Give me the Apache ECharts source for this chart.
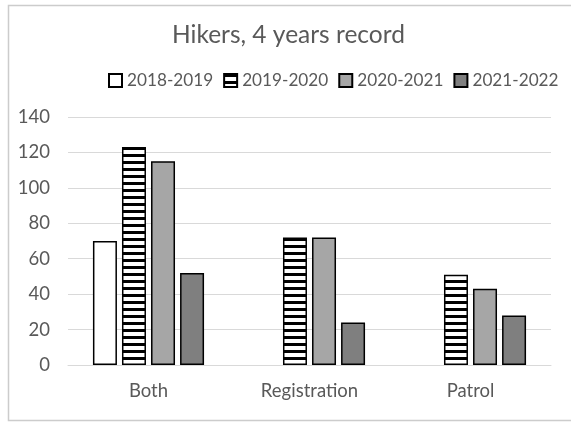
<!DOCTYPE html>
<html>
<head>
<meta charset="utf-8">
<script src="https://cdn.jsdelivr.net/npm/echarts@6/dist/echarts.min.js"></script>
<style>
  html, body { margin: 0; padding: 0; background: #fff; }
  #chart { width: 571px; height: 423px; }
</style>
</head>
<body>
<div id="chart"></div>
<script>
  // data (no bar drawn for 2018-2019 outside "Both")
  var categories = ['Both', 'Registration', 'Patrol'];
  var seasons = ['2018-2019', '2019-2020', '2020-2021', '2021-2022'];
  var s2018 = [70, null, null];
  var s2019 = [123, 72, 51];
  var s2020 = [115, 72, 43];
  var s2021 = [52, 24, 28];
  var yTicks = [0, 20, 40, 60, 80, 100, 120, 140];

  // horizontal stripes for 2019-2020
  var stripe = document.createElement('canvas');
  stripe.width = 8;
  stripe.height = 7;
  var ctx = stripe.getContext('2d');
  ctx.fillStyle = '#fff';
  ctx.fillRect(0, 0, 8, 7);
  ctx.fillStyle = '#000';
  ctx.fillRect(0, 0, 8, 3);

  var fills = ['#ffffff', { image: stripe, repeat: 'repeat' }, '#a6a6a6', '#7f7f7f'];
  var values = [s2018, s2019, s2020, s2021];
  var font = 'Lato';

  var chart = echarts.init(document.getElementById('chart'), null, { renderer: 'canvas' });

  chart.setOption({
    animation: false,
    backgroundColor: '#fff',
    textStyle: { fontFamily: font },
    graphic: [{
      type: 'rect',
      shape: { x: 8.5, y: 5.5, width: 600, height: 415 },
      style: { fill: 'none', stroke: '#cccccc', lineWidth: 1.5 },
      silent: true
    }],
    title: {
      text: 'Hikers, 4 years record',
      left: 172,
      top: 23,
      padding: 0,
      textStyle: { color: '#595959', fontSize: 24.5, fontWeight: 'normal', fontFamily: font }
    },
    legend: {
      top: 72,
      left: 108,
      width: 470,
      padding: 0,
      icon: 'rect',
      itemWidth: 13,
      itemHeight: 13,
      itemGap: 10,
      textStyle: { color: '#595959', fontSize: 17.2, fontFamily: font },
      data: seasons
    },
    grid: { left: 68, right: 20, top: 117, bottom: 58 },
    xAxis: {
      type: 'category',
      data: categories,
      axisTick: { show: false },
      axisLine: { lineStyle: { color: '#d9d9d9', width: 1 } },
      axisLabel: { color: '#595959', fontSize: 18.5, margin: 17, fontFamily: font }
    },
    yAxis: {
      type: 'value',
      min: yTicks[0],
      max: yTicks[yTicks.length - 1],
      interval: 20,
      axisLine: { show: false },
      axisTick: { show: false },
      splitLine: { lineStyle: { color: '#d9d9d9', width: 1 } },
      axisLabel: { color: '#595959', fontSize: 18.5, margin: 18, fontFamily: font }
    },
    series: seasons.map(function (name, i) {
      return {
        name: name,
        type: 'bar',
        barWidth: 24,
        barGap: '21%',
        itemStyle: { color: fills[i], borderColor: '#000', borderWidth: 1.5 },
        data: values[i]
      };
    })
  });
</script>
</body>
</html>
